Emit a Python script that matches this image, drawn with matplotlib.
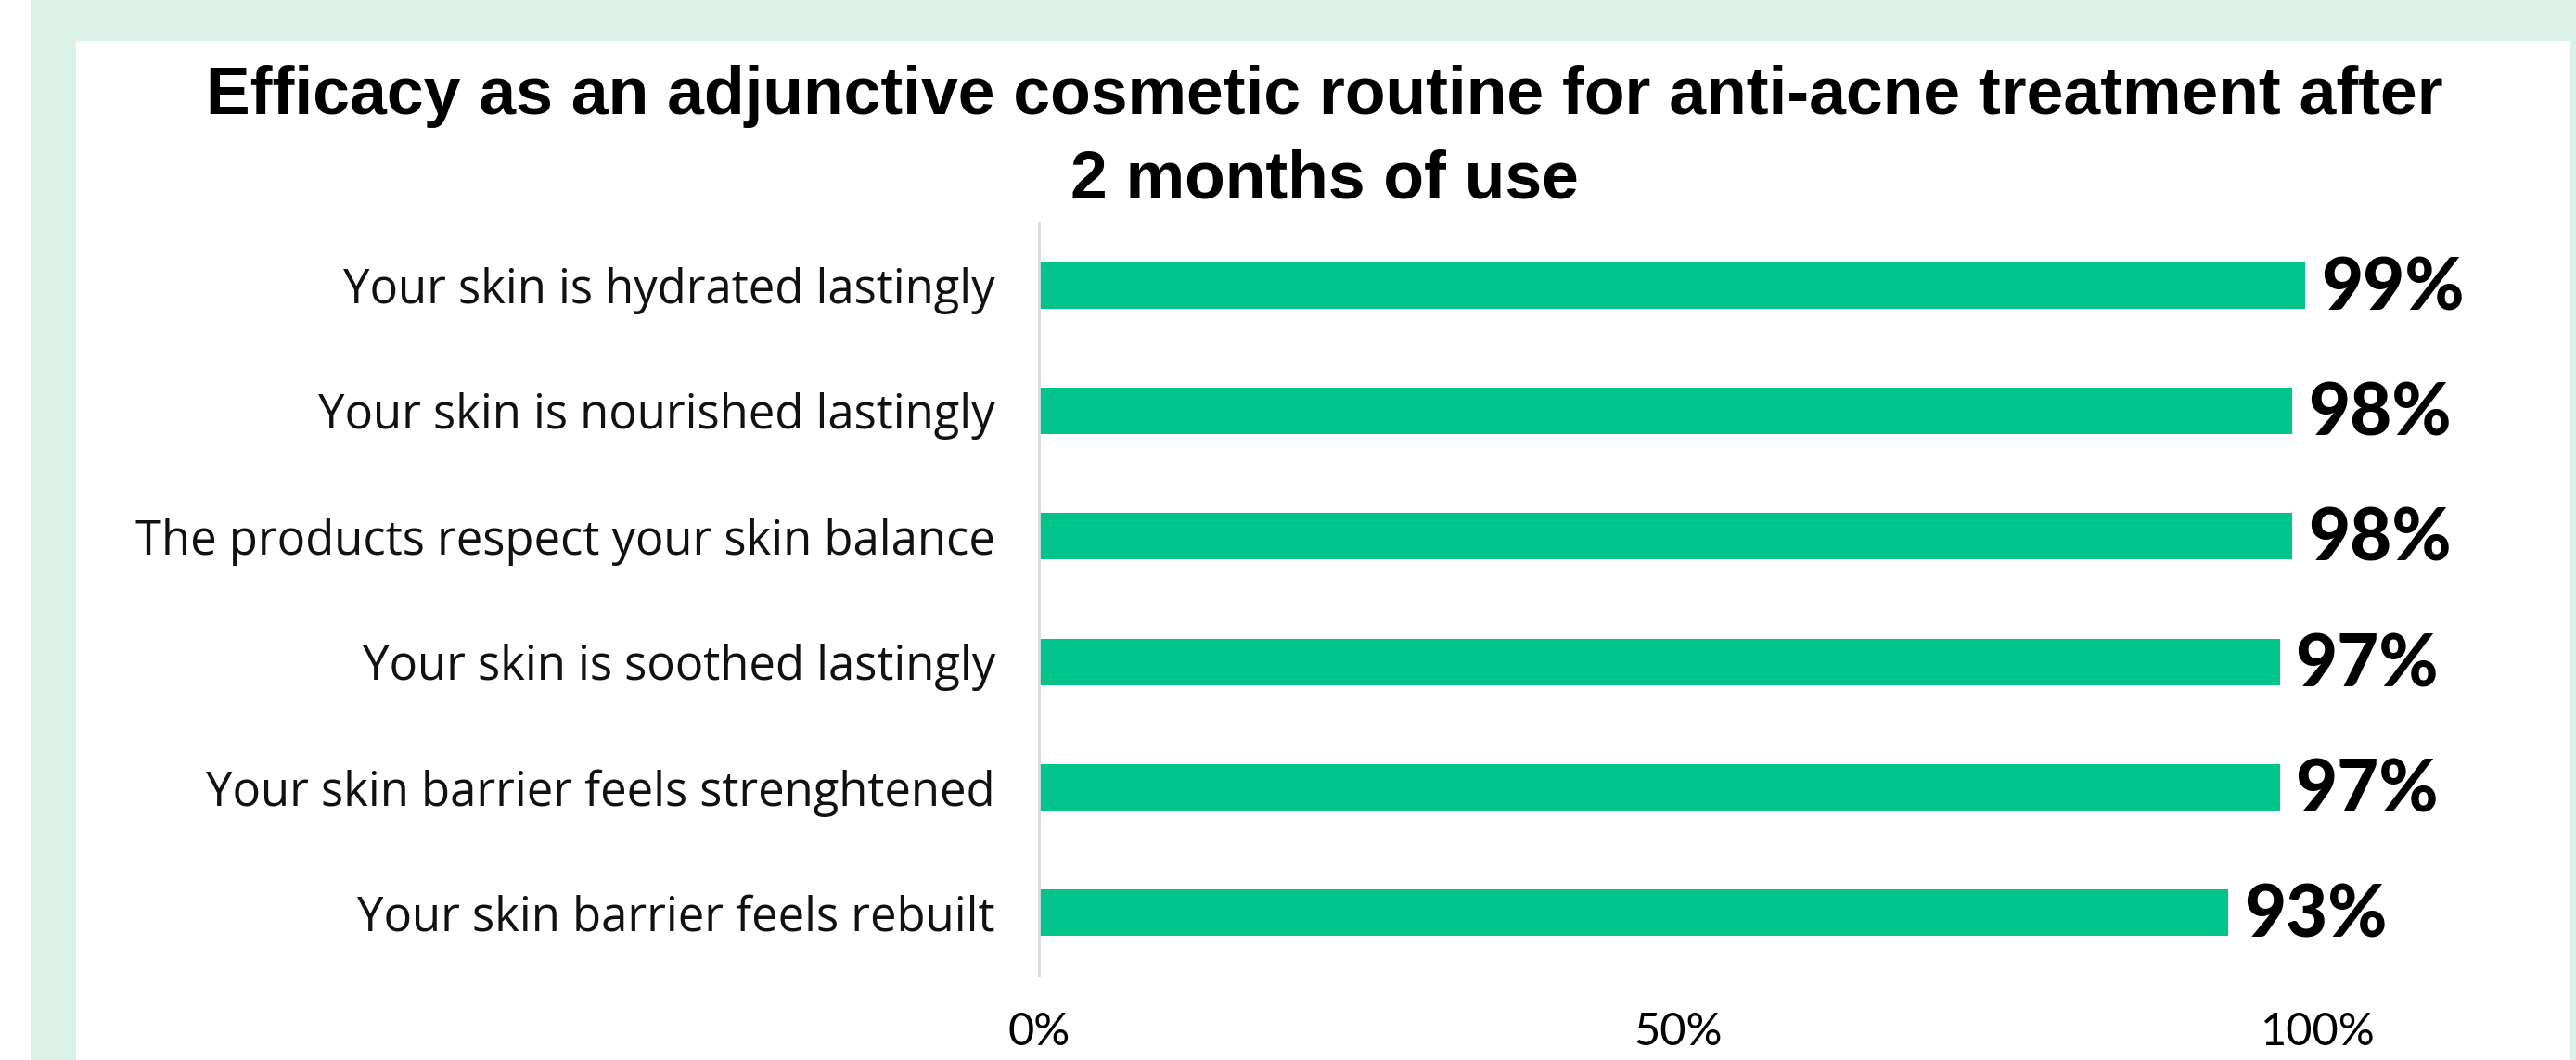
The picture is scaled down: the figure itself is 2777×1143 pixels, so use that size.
import matplotlib.pyplot as plt
from matplotlib.patches import Rectangle

categories = [
    "Your skin is hydrated lastingly",
    "Your skin is nourished lastingly",
    "The products respect your skin balance",
    "Your skin is soothed lastingly",
    "Your skin barrier feels strenghtened",
    "Your skin barrier feels rebuilt",
]
values = [99, 98, 98, 97, 97, 93]
xticks = [0, 50, 100]
xtick_labels = ["0%", "50%", "100%"]
title_lines = [
    "Efficacy as an adjunctive cosmetic routine for anti-acne treatment after",
    "2 months of use",
]

W, H = 2777, 1143
mint = "#daf1e8"
green = "#00c48c"

fig = plt.figure(figsize=(W / 100, H / 100), dpi=100)
fig.patch.set_facecolor("white")

# mint frame with white panel inside
fig.patches.append(Rectangle((33 / W, 0), 1, 1, transform=fig.transFigure,
                             facecolor=mint, edgecolor="none", zorder=-2))
fig.patches.append(Rectangle((82 / W, 0), (2770 - 82) / W, 1 - 44 / H,
                             transform=fig.transFigure, facecolor="white",
                             edgecolor="none", zorder=-1))

ax = fig.add_axes([1120 / W, 1 - 1052 / H, (2499 - 1120) / W, (1052 - 240) / H])
ax.set_facecolor("none")
ax.set_zorder(2)

ypos = list(range(len(categories)))
bars = ax.barh(ypos, values, height=0.37, color=green, zorder=2)
ax.set_xlim(0, 100)
ax.set_ylim(len(categories) - 0.5, -0.5)

for b, v in zip(bars, values):
    ax.text(b.get_width() + 1.2, b.get_y() + b.get_height() / 2 + 0.03, f"{v}%",
            va="center", ha="left", fontsize=56, fontweight="black",
            family="Lato", color="black", clip_on=False)

ax.set_yticks(ypos)
ax.set_yticklabels(categories, fontsize=36.5, family="Open Sans", color="#111111")
ax.set_xticks(xticks)
ax.set_xticklabels(xtick_labels, fontsize=35, family="Lato", color="black")
ax.tick_params(axis="y", length=0, pad=34)
ax.tick_params(axis="x", length=0, pad=28)

for s in ["top", "right", "bottom"]:
    ax.spines[s].set_visible(False)
ax.spines["left"].set_color("#d9d9d9")
ax.spines["left"].set_linewidth(2)

cx = 1428 / W
fig.text(cx, 1 - 123 / H, title_lines[0], ha="center", va="baseline",
         fontsize=51.5, fontweight="bold", family="Liberation Sans")
fig.text(cx, 1 - 213 / H, title_lines[1], ha="center", va="baseline",
         fontsize=51.5, fontweight="bold", family="Liberation Sans")

fig.savefig("out.png", dpi=100)
